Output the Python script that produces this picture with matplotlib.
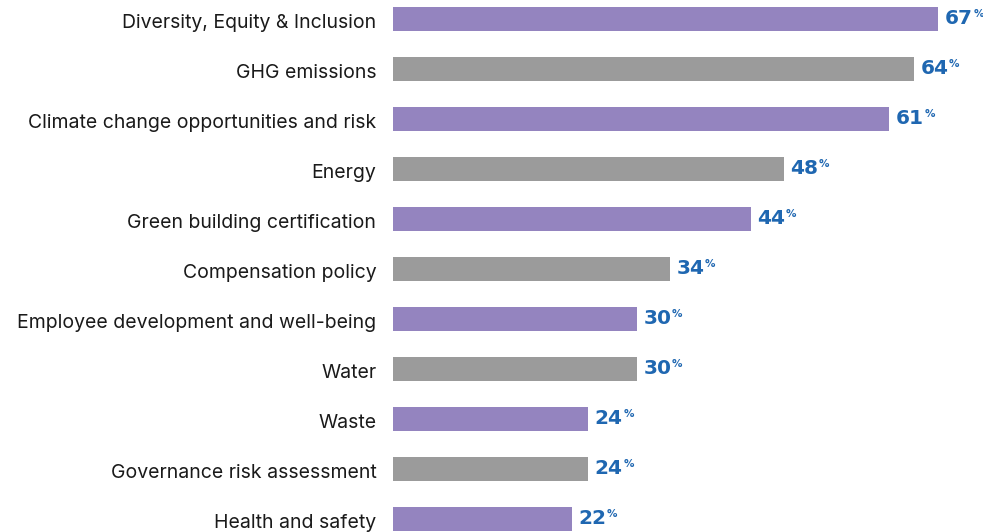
import matplotlib.pyplot as plt
import matplotlib.transforms as mtransforms

categories = ["Diversity, Equity & Inclusion", "GHG emissions", "Climate change opportunities and risk",
              "Energy", "Green building certification", "Compensation policy",
              "Employee development and well-being", "Water", "Waste",
              "Governance risk assessment", "Health and safety"]
values = [67, 64, 61, 48, 44, 34, 30, 30, 24, 24, 22]

purple = "#9484bf"
gray = "#9b9b9b"
blue = "#1f67b1"
colors = [purple if i % 2 == 0 else gray for i in range(len(values))]

fig = plt.figure(figsize=(9.83, 5.32), dpi=100)
ax = fig.add_axes([393 / 983, 0, 590 / 983, 1])

pos = list(range(len(values)))
ax.barh(pos, values, height=0.48, color=colors)
ax.set_xlim(0, 72.5)
ax.set_ylim(10.26, -0.38)

ax.set_yticks(pos)
ax.set_yticklabels(categories, fontsize=14, family="Inter", color="#1a1a1a")
ax.tick_params(axis="y", length=0, pad=12)
ax.set_xticks([])
for s in ax.spines.values():
    s.set_visible(False)

# labels sit a touch lower than the bar centres in the original
shift = mtransforms.ScaledTranslation(0, -2 / 100, fig.dpi_scale_trans)
for lbl in ax.get_yticklabels():
    lbl.set_transform(lbl.get_transform() + shift)

for i, v in enumerate(values):
    t = ax.text(v + 0.8, i, str(v), va="center", ha="left", fontsize=14.5,
                fontweight="bold", color=blue, family="DejaVu Sans")
    ax.annotate("%", xy=(1, 0.5), xycoords=t, xytext=(0.3, 0), textcoords="offset points",
                fontsize=7.5, fontweight="bold", color=blue, va="bottom", ha="left")

fig.savefig("out.png", dpi=100)
